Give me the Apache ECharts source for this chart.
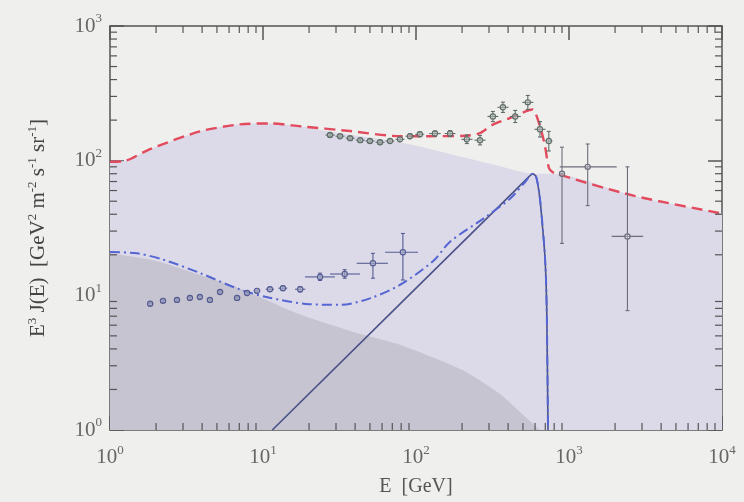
<!DOCTYPE html>
<html>
<head>
<meta charset="utf-8">
<script src="https://cdn.jsdelivr.net/npm/echarts@6/dist/echarts.min.js"></script>
<style>
html, body { margin: 0; padding: 0; background: #efefed; }
#chart { width: 744px; height: 502px; }
</style>
</head>
<body>
<div id="chart"></div>
<script>
// axis ranges (log10)
var xMin = 1, xMax = 10000;
var yMin = 1, yMax = 1000;

// light shaded region: background flux
var backgroundArea = [[1, 98], [1.25, 99.5], [1.83, 122], [3.87, 165], [7.07, 186], [11.1, 189], [17.5, 180],
	[28.7, 163], [78.5, 137], [167, 112], [354, 91], [600, 80], [760, 80], [2640, 55], [10000, 40.5]];

// dark shaded region: secondary component
var secondaryArea = [[1, 20.5], [2, 18], [4, 14], [7, 11.3], [17.5, 7.2], [40, 5.3], [78.5, 4.3],
	[200, 2.8], [354, 1.85], [500, 1.3], [646, 1]];

// total model (red dashed)
var totalLine = [[1, 98], [1.25, 99.5], [1.83, 122], [3.87, 165], [7.07, 186], [11.1, 189], [17.5, 180],
	[37, 166], [78.5, 152], [123, 152], [210, 153], [262, 160], [318, 185], [410, 207], [538, 235],
	[580, 240], [646, 180], [697, 128], [740, 88], [800, 81], [2640, 55], [10000, 40.5]];

// secondary + signal (blue dash-dot)
var lowerModel = [[1, 21], [1.5, 20.5], [2.2, 18.5], [3.9, 14.6], [7, 11.1], [11, 9.6], [20, 8.6],
	[32, 8.5], [50, 9.5], [78, 11.9], [129, 17.9], [167, 25], [274, 37], [410, 52], [520, 70],
	[580, 80], [610, 76], [646, 52], [697, 19], [715, 8], [729, 1]];

// signal component (solid)
var signalLine = [[11.5, 1], [450, 61], [540, 75], [580, 80], [610, 76], [646, 52], [670, 33],
	[697, 19], [715, 8], [729, 1]];

// measurements: [E, value, E low, E high, value low, value high]
var upperData = [
	[27.4, 155, 25.6, 29.4, 151, 159], [31.9, 152, 29.8, 34.1, 148, 156], [37.1, 147, 34.7, 39.7, 143, 151],
	[43.2, 142, 40.4, 46.2, 138, 146], [50.0, 140, 46.7, 53.5, 136, 144], [58.2, 137, 54.4, 62.3, 133, 141],
	[67.7, 140, 63.3, 72.4, 135, 145], [78.6, 144, 73.5, 84.1, 139, 149], [91.4, 152, 85.4, 97.8, 146, 158],
	[106, 157, 99, 113, 151, 163], [133, 159, 122, 145, 152, 166], [167, 159, 154, 181, 151, 167],
	[215, 144, 198, 234, 134, 155], [262, 142, 241, 285, 131, 154], [318, 213, 293, 345, 195, 232],
	[370, 249, 341, 402, 228, 272], [445, 213, 410, 484, 192, 236], [538, 271, 495, 585, 240, 305],
	[646, 171, 595, 702, 150, 195], [738, 140, 700, 780, 118, 165]
];
var highData = [
	[900, 80, 860, 940, 24.3, 126], [1325, 90, 870, 2050, 46.4, 133], [2410, 27.4, 1900, 3050, 7.7, 90]
];
var lowerData = [
	[1.83, 8.65, 1.75, 1.92, 8.4, 8.9], [2.22, 9.1, 2.12, 2.32, 8.85, 9.35], [2.74, 9.25, 2.62, 2.86, 9.0, 9.5],
	[3.33, 9.57, 3.18, 3.48, 9.3, 9.85], [3.87, 9.73, 3.7, 4.05, 9.45, 10.0], [4.5, 9.25, 4.3, 4.7, 8.95, 9.55],
	[5.24, 10.6, 5.0, 5.5, 10.25, 10.95], [6.77, 9.57, 6.45, 7.1, 9.25, 9.9], [7.87, 10.4, 7.5, 8.25, 10.05, 10.75],
	[9.14, 10.8, 8.7, 9.6, 10.4, 11.2], [11.1, 11.1, 10.4, 11.8, 10.7, 11.5], [13.5, 11.3, 12.6, 14.4, 10.9, 11.7],
	[17.5, 11.1, 16.2, 18.9, 10.6, 11.6], [23.6, 13.7, 18.8, 29.5, 12.9, 14.6], [34.2, 14.4, 27.4, 43, 13.4, 15.5],
	[52.3, 17.3, 41, 65.5, 13.4, 20.5], [82.1, 20.9, 62.8, 103, 13.0, 28.8]
];

var minorSteps = [2, 3, 4, 5, 6, 7, 8, 9];
var minorTicks = [];
[1, 10, 100, 1000].forEach(function (d) {
	minorSteps.forEach(function (m) { minorTicks.push([m * d, yMin, 0]); });
});
[1, 10, 100].forEach(function (d) {
	minorSteps.forEach(function (m) { minorTicks.push([xMin, m * d, 1]); });
});

var serif = 'Liberation Serif';
var labelRich = {
	b: { fontFamily: serif, fontSize: 21, color: '#666' },
	e: { fontFamily: serif, fontSize: 13, color: '#666', padding: [0, 0, 14, 0] }
};
function powLabel(v) {
	var e = Math.round(Math.log10(v));
	return '{b|10}{e|' + e + '}';
}

function renderErrorBar(params, api) {
	var color = api.visual('color');
	var p = api.coord([api.value(0), api.value(1)]);
	var l = api.coord([api.value(2), api.value(1)]);
	var r = api.coord([api.value(3), api.value(1)]);
	var lo = api.coord([api.value(0), api.value(4)]);
	var hi = api.coord([api.value(0), api.value(5)]);
	var st = { stroke: color, lineWidth: 1.1 };
	return {
		type: 'group',
		children: [
			{ type: 'line', shape: { x1: l[0], y1: l[1], x2: r[0], y2: r[1] }, style: st },
			{ type: 'line', shape: { x1: lo[0], y1: lo[1], x2: hi[0], y2: hi[1] }, style: st },
			{ type: 'line', shape: { x1: p[0] - 2, y1: lo[1], x2: p[0] + 2, y2: lo[1] }, style: st },
			{ type: 'line', shape: { x1: p[0] - 2, y1: hi[1], x2: p[0] + 2, y2: hi[1] }, style: st },
			{ type: 'circle', shape: { cx: p[0], cy: p[1], r: 2.6 }, style: { stroke: color, fill: 'rgba(255,255,255,0.3)', lineWidth: 1.2 } }
		]
	};
}

function renderMinorTick(params, api) {
	var kind = api.value(2);
	var st = { stroke: '#555', lineWidth: 1.2 };
	var a, b;
	if (kind === 0) {
		a = api.coord([api.value(0), yMin]);
		b = api.coord([api.value(0), yMax]);
		return { type: 'group', children: [
			{ type: 'line', shape: { x1: a[0], y1: a[1], x2: a[0], y2: a[1] - 7 }, style: st },
			{ type: 'line', shape: { x1: b[0], y1: b[1], x2: b[0], y2: b[1] + 7 }, style: st }
		] };
	}
	a = api.coord([xMin, api.value(1)]);
	b = api.coord([xMax, api.value(1)]);
	return { type: 'group', children: [
		{ type: 'line', shape: { x1: a[0], y1: a[1], x2: a[0] + 7, y2: a[1] }, style: st },
		{ type: 'line', shape: { x1: b[0], y1: b[1], x2: b[0] - 7, y2: b[1] }, style: st }
	] };
}

var axisLineStyle = { lineStyle: { color: '#555', width: 1.5 } };
var majorTick = { inside: true, length: 14, lineStyle: { color: '#555', width: 1.5 } };

var chart = echarts.init(document.getElementById('chart'));
chart.setOption({
	backgroundColor: '#efefed',
	animation: false,
	grid: { left: 110, right: 22, top: 26, bottom: 69 },
	xAxis: [{
		type: 'log', logBase: 10, min: xMin, max: xMax, splitNumber: 4,
		axisLine: axisLineStyle, axisTick: majorTick, splitLine: { show: false },
		axisLabel: { formatter: powLabel, rich: labelRich, margin: 14 },
		name: 'E  [GeV]', nameLocation: 'middle', nameGap: 47,
		nameTextStyle: { fontFamily: serif, fontSize: 20, color: '#555' }
	}, {
		type: 'log', logBase: 10, min: xMin, max: xMax, splitNumber: 4, position: 'top',
		axisLine: axisLineStyle, axisTick: majorTick, splitLine: { show: false },
		axisLabel: { show: false }
	}],
	yAxis: [{
		type: 'log', logBase: 10, min: yMin, max: yMax, splitNumber: 3,
		axisLine: axisLineStyle, axisTick: majorTick, splitLine: { show: false },
		axisLabel: { formatter: powLabel, rich: labelRich, margin: 8 },
		name: '{n|E}{s|3}{n| J(E)  [GeV}{s|2}{n| m}{s|-2}{n| s}{s|-1}{n| sr}{s|-1}{n|]}',
		nameLocation: 'middle', nameGap: 60, nameRotate: 90,
		nameTextStyle: {
			rich: {
				n: { fontFamily: serif, fontSize: 21, color: '#444' },
				s: { fontFamily: serif, fontSize: 13, color: '#444', padding: [0, 0, 11, 0] }
			}
		}
	}, {
		type: 'log', logBase: 10, min: yMin, max: yMax, splitNumber: 3, position: 'right',
		axisLine: axisLineStyle, axisTick: majorTick, splitLine: { show: false },
		axisLabel: { show: false }
	}],
	series: [{
		name: 'background', type: 'line', data: backgroundArea, smooth: 0.3, showSymbol: false,
		lineStyle: { width: 0 }, areaStyle: { color: '#dcdae9', opacity: 1, origin: 'start' }, z: 1
	}, {
		name: 'secondary', type: 'line', data: secondaryArea, smooth: 0.2, showSymbol: false,
		lineStyle: { width: 0 }, areaStyle: { color: '#c6c4d0', opacity: 1, origin: 'start' }, z: 2
	}, {
		name: 'signal', type: 'line', data: signalLine, smooth: 0.2, showSymbol: false,
		lineStyle: { color: '#4a5288', width: 1.6 }, z: 3
	}, {
		name: 'secondary + signal', type: 'line', data: lowerModel, smooth: 0.3, showSymbol: false,
		lineStyle: { color: '#5565d2', width: 2, type: [10, 4, 2, 4] }, z: 4
	}, {
		name: 'total', type: 'line', data: totalLine, smooth: 0.25, showSymbol: false,
		lineStyle: { color: '#e24a5e', width: 2.4, type: [11, 6] }, z: 5
	}, {
		name: 'data', type: 'custom', renderItem: renderErrorBar, data: upperData,
		encode: { x: 0, y: 1 }, itemStyle: { color: '#5f6d68' }, z: 6
	}, {
		name: 'data high', type: 'custom', renderItem: renderErrorBar, data: highData,
		encode: { x: 0, y: 1 }, itemStyle: { color: '#6d6d7c' }, z: 6
	}, {
		name: 'data low', type: 'custom', renderItem: renderErrorBar, data: lowerData,
		encode: { x: 0, y: 1 }, itemStyle: { color: '#555c92' }, z: 6
	}, {
		name: 'minor ticks', type: 'custom', renderItem: renderMinorTick, data: minorTicks,
		encode: { x: 0, y: 1 }, silent: true, clip: false, z: 10
	}]
});
</script>
</body>
</html>
